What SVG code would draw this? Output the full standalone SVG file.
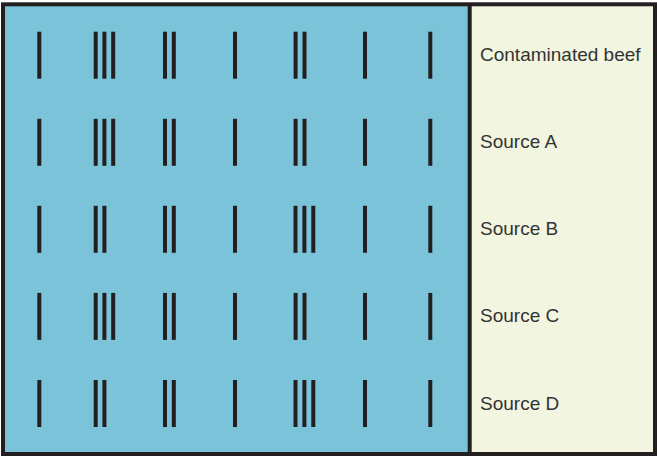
<svg xmlns="http://www.w3.org/2000/svg" width="657" height="457" viewBox="0 0 657 457">
<style>
.bar{fill:#231f20}
.lbl{font-family:"Liberation Sans",Arial,sans-serif;font-size:19px;fill:#333333}
</style>
<defs>
<rect id="b" class="bar" x="-2" y="-23.5" width="4" height="47"/>
</defs>
<rect x="3" y="4.3" width="466.7" height="449.7" fill="#7bc3d9"/>
<rect x="469.7" y="4.3" width="185.3" height="449.7" fill="#f2f5e0"/>
<g fill="none" stroke="#231f20" stroke-width="4">
<rect x="3" y="4.3" width="652" height="449.7"/>
<line x1="469.7" y1="4.3" x2="469.7" y2="454"/>
</g>
<g id="row1" transform="translate(0,55.2)">
<use href="#b" x="39.3"/>
<use href="#b" x="95.7"/><use href="#b" x="104.4"/><use href="#b" x="113.2"/>
<use href="#b" x="165"/><use href="#b" x="173.8"/>
<use href="#b" x="235"/>
<use href="#b" x="295.6"/><use href="#b" x="304.5"/>
<use href="#b" x="365"/>
<use href="#b" x="430.3"/>
<text class="lbl" x="480" y="6">Contaminated beef</text>
</g>
<g id="row2" transform="translate(0,142.3)">
<use href="#b" x="39.3"/>
<use href="#b" x="95.7"/><use href="#b" x="104.4"/><use href="#b" x="113.2"/>
<use href="#b" x="165"/><use href="#b" x="173.8"/>
<use href="#b" x="235"/>
<use href="#b" x="295.6"/><use href="#b" x="304.5"/>
<use href="#b" x="365"/>
<use href="#b" x="430.3"/>
<text class="lbl" x="480" y="6">Source A</text>
</g>
<g id="row3" transform="translate(0,229.3)">
<use href="#b" x="39.3"/>
<use href="#b" x="95.7"/><use href="#b" x="104.4"/>
<use href="#b" x="165"/><use href="#b" x="173.8"/>
<use href="#b" x="235"/>
<use href="#b" x="295.5"/><use href="#b" x="304.4"/><use href="#b" x="313.3"/>
<use href="#b" x="365"/>
<use href="#b" x="430.3"/>
<text class="lbl" x="480" y="6">Source B</text>
</g>
<g id="row4" transform="translate(0,316.4)">
<use href="#b" x="39.3"/>
<use href="#b" x="95.7"/><use href="#b" x="104.4"/><use href="#b" x="113.2"/>
<use href="#b" x="165"/><use href="#b" x="173.8"/>
<use href="#b" x="235"/>
<use href="#b" x="295.6"/><use href="#b" x="304.5"/>
<use href="#b" x="365"/>
<use href="#b" x="430.3"/>
<text class="lbl" x="480" y="6">Source C</text>
</g>
<g id="row5" transform="translate(0,403.5)">
<use href="#b" x="39.3"/>
<use href="#b" x="95.7"/><use href="#b" x="104.4"/>
<use href="#b" x="165"/><use href="#b" x="173.8"/>
<use href="#b" x="235"/>
<use href="#b" x="295.5"/><use href="#b" x="304.4"/><use href="#b" x="313.3"/>
<use href="#b" x="365"/>
<use href="#b" x="430.3"/>
<text class="lbl" x="480" y="6">Source D</text>
</g>
</svg>
